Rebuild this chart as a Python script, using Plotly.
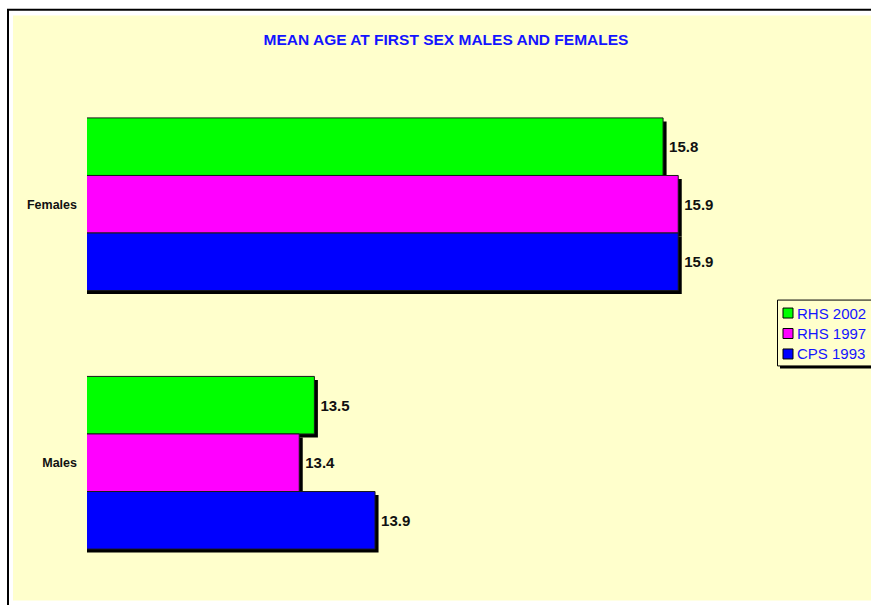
import plotly.graph_objects as go

# Mean age at first sex, by survey
categories = ["Females", "Males"]
series_names = ["RHS 2002", "RHS 1997", "CPS 1993"]
rhs_2002 = [15.8, 13.5]
rhs_1997 = [15.9, 13.4]
cps_1993 = [15.9, 13.9]
series_values = [rhs_2002, rhs_1997, cps_1993]
series_colors = ["#00FF00", "#FF00FF", "#0000FF"]

W, H = 871, 605
L, R, T, B = 87, 26, 74.5, 12.5
X_RANGE = [12, 17]
plot_w = W - L - R
plot_h = H - T - B

# drop-shadow offset in pixels, converted to axis units
SHADOW_PX = 3.5
dx = SHADOW_PX * (X_RANGE[1] - X_RANGE[0]) / plot_w
dy = SHADOW_PX * 2.0 / plot_h
Y_RANGE = [len(categories) - 0.5, -0.5]  # reversed: first category on top


def px_x(px):
    return (px - L) / plot_w


def px_y(py):
    return (H - B - py) / plot_h


fig = go.Figure()

# black shadows underneath (main axes, shifted ranges)
for name, vals in zip(series_names, series_values):
    fig.add_trace(go.Bar(
        y=categories, x=vals, orientation="h", name=name + " shadow",
        marker=dict(color="#000000", line=dict(width=0)),
        showlegend=False, hoverinfo="skip",
        xaxis="x", yaxis="y",
    ))

# coloured bars on the overlaid axes; thin space keeps the label clear of the shadow
for name, vals, col in zip(series_names, series_values, series_colors):
    fig.add_trace(go.Bar(
        y=categories, x=vals, orientation="h", name=name,
        marker=dict(color=col, line=dict(color="#1a1a1a", width=1)),
        text=[f"\u2009{v:.1f}" for v in vals], textposition="outside",
        constraintext="none", cliponaxis=False,
        textfont=dict(family="Arial, Liberation Sans", size=15, color="#111111", weight="bold"),
        showlegend=False,
        xaxis="x2", yaxis="y2",
    ))

shapes = [
    # chart area fill
    dict(type="rect", xref="paper", yref="paper", layer="below",
         x0=px_x(13), x1=px_x(W + 5), y0=px_y(601), y1=px_y(15),
         fillcolor="#FFFFCC", line=dict(width=0)),
    # outer frame
    dict(type="line", xref="paper", yref="paper",
         x0=px_x(7), x1=px_x(W + 5), y0=px_y(9), y1=px_y(9),
         line=dict(color="#000000", width=2)),
    dict(type="line", xref="paper", yref="paper",
         x0=px_x(8), x1=px_x(8), y0=px_y(9), y1=px_y(H + 5),
         line=dict(color="#000000", width=2)),
    # legend box with shadow
    dict(type="rect", xref="paper", yref="paper",
         x0=px_x(780), x1=px_x(W + 10), y0=px_y(368.5), y1=px_y(302.5),
         fillcolor="#000000", line=dict(width=0)),
    dict(type="rect", xref="paper", yref="paper",
         x0=px_x(777.5), x1=px_x(W + 8), y0=px_y(366), y1=px_y(300),
         fillcolor="#FFFFCC", line=dict(color="#000000", width=1)),
]

annotations = []
legend_rows = [313, 333.5, 354]
for name, col, yc in zip(series_names, series_colors, legend_rows):
    shapes.append(dict(type="rect", xref="paper", yref="paper",
                       x0=px_x(783), x1=px_x(793), y0=px_y(yc + 5), y1=px_y(yc - 5),
                       fillcolor=col, line=dict(color="#000000", width=1)))
    annotations.append(dict(xref="paper", yref="paper", x=px_x(795), y=px_y(yc),
                            xanchor="left", yanchor="middle", showarrow=False,
                            text=name,
                            font=dict(family="Arial, Liberation Sans", size=15, color="#1414FF")))

fig.update_layout(
    width=W, height=H,
    margin=dict(l=L, r=R, t=T, b=B, pad=0),
    paper_bgcolor="#FFFFFF",
    plot_bgcolor="#FFFFCC",
    barmode="group", bargap=0.332, bargroupgap=0,
    showlegend=False,
    title=dict(text="<b>MEAN AGE AT FIRST SEX MALES AND FEMALES</b>",
               x=446 / W, xref="container", xanchor="center",
               y=1 - 39.5 / H, yref="container", yanchor="middle",
               font=dict(family="Arial, Liberation Sans", size=15.5, color="#1414FF")),
    xaxis=dict(range=[X_RANGE[0] - dx, X_RANGE[1] - dx], visible=False, fixedrange=True),
    yaxis=dict(type="category", range=[Y_RANGE[0] - dy, Y_RANGE[1] - dy],
               visible=False, fixedrange=True),
    xaxis2=dict(range=X_RANGE, overlaying="x", anchor="y2", visible=False, fixedrange=True),
    yaxis2=dict(type="category", range=Y_RANGE, overlaying="y", anchor="x2", side="left",
                showgrid=False, zeroline=False, showline=False, ticks="",
                ticklabelstandoff=9,
                tickfont=dict(family="Arial, Liberation Sans", size=12.5, color="#111111", weight="bold")),
    shapes=shapes,
    annotations=annotations,
    font=dict(family="Arial, Liberation Sans"),
)

fig.write_html("out.html")
